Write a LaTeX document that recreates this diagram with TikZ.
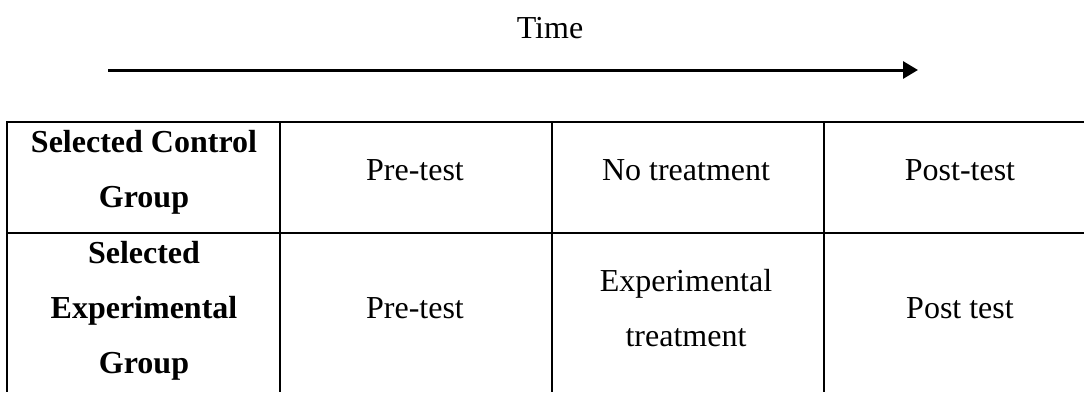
\documentclass[tikz,border=0pt]{standalone}
\usepackage{fontspec}
\setmainfont{Liberation Serif}
\usetikzlibrary{arrows.meta}

\tikzset{
  cell/.style={align=center, font=\fontsize{16}{27.5}\selectfont},
  rowhead/.style={align=center, font=\fontsize{16}{27.5}\selectfont\bfseries},
  tableline/.style={line width=1.3pt},
  timeline/.style={line width=1.5pt, -{Triangle[length=7.5pt,width=8.5pt]}}
}

\begin{document}
\begin{tikzpicture}[x=0.5pt,y=-0.5pt]
\useasboundingbox (0,0) rectangle (1084,392);

% time axis
\node[cell,anchor=base] (time) at (550,38) {Time};
\coordinate (t0) at (108,70);
\coordinate (t1) at (918,70);
\draw[timeline] (t0) -- (t1);

% table rules
\draw[tableline] (1084,122) -- (7,122) -- (7,392);
\draw[tableline] (7,233) -- (1084,233);
\draw[tableline] (280,122) -- (280,392);
\draw[tableline] (552,122) -- (552,392);
\draw[tableline] (824,122) -- (824,392);

% control row
\node[rowhead] (ctl) at (144,172) {Selected Control\\Group};
\node[cell,anchor=base] (ctlpre) at (415,180) {Pre-test};
\node[cell,anchor=base] (ctlno) at (686,180) {No treatment};
\node[cell,anchor=base] (ctlpost) at (960,180) {Post-test};

% experimental row
\node[rowhead] (exp) at (144,311) {Selected\\Experimental\\Group};
\node[cell,anchor=base] (exppre) at (415,318) {Pre-test};
\node[cell] (exptreat) at (686,308) {Experimental\\treatment};
\node[cell,anchor=base] (exppost) at (960,318) {Post test};
\end{tikzpicture}
\end{document}
